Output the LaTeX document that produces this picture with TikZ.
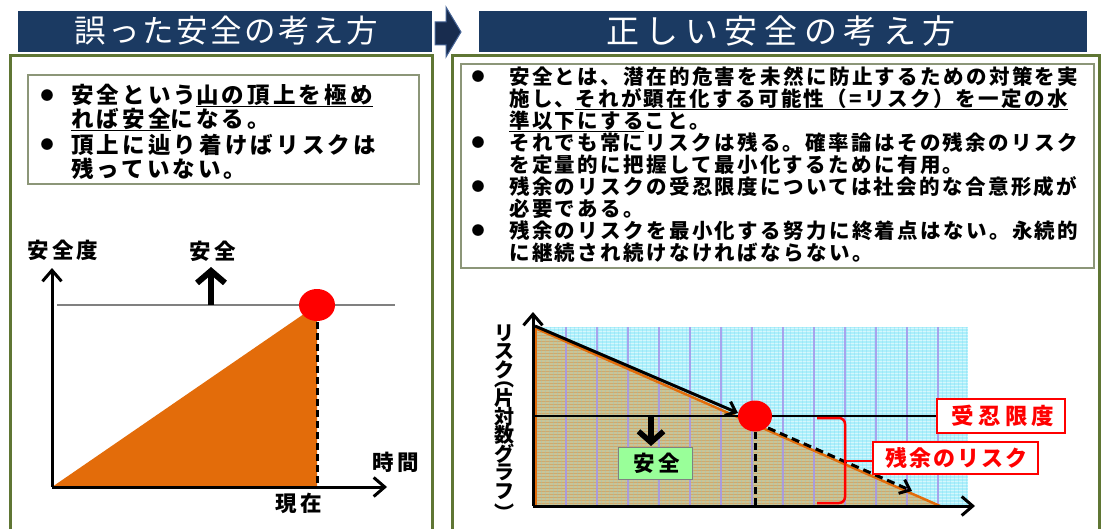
\documentclass[tikz,border=0pt]{standalone}
\usepackage{fontspec}
\usetikzlibrary{arrows.meta}
\newfontfamily\jp{Noto Sans CJK JP}
\definecolor{navy}{RGB}{27,58,98}
\definecolor{navyarrow}{RGB}{24,44,78}
\definecolor{navyedge}{RGB}{70,100,150}
\definecolor{olive}{RGB}{95,118,52}
\definecolor{boxline}{RGB}{140,150,120}
\definecolor{orng}{RGB}{227,108,10}
\definecolor{gridbg}{RGB}{172,240,250}
\definecolor{mytan}{RGB}{202,196,150}
\definecolor{gridv}{RGB}{165,150,235}
\definecolor{okgreen}{RGB}{153,255,153}
\newcommand{\jfont}[2]{\jp\fontsize{#1}{#1}\selectfont\addfontfeatures{LetterSpace=#2}}
\newcommand{\ulx}[1]{\setbox0=\hbox{#1}\rlap{\rule[-3.6pt]{\wd0}{1.1pt}}\box0}
\newcommand{\vc}[1]{\smash{#1}}
\newcommand{\vr}[2]{\smash{\raisebox{#1}{#2}}}
\begin{document}
\begin{tikzpicture}[x=1pt,y=-1pt,
  hdr/.style={fill=navy,draw=none},
  hdrtxt/.style={text=white,inner sep=0pt},
  panel/.style={draw=olive,line width=3pt},
  tbox/.style={draw=boxline,line width=1.2pt,fill=white},
  ltxt/.style={anchor=west,inner sep=0pt,font=\jfont{22.5}{14}\bfseries},
  rtxt/.style={anchor=west,inner sep=0pt,font=\jfont{20.5}{11.5}\bfseries},
  bul/.style={inner sep=0pt,font=\jp\fontsize{13}{13}\selectfont},
  glabel/.style={inner sep=0pt,font=\jfont{21.5}{15}\bfseries},
  axis/.style={line width=3pt,-{Straight Barb[length=11pt,width=19pt]}},
  thickarrow/.style={line width=6pt,-{Straight Barb[length=12pt,width=28pt]}},
  slopearrow/.style={line width=3pt,-{Straight Barb[length=9pt,width=15pt]}},
  dash2/.style={line width=3pt,dash pattern=on 7pt off 4pt},
  redbox/.style={draw=red,line width=1.5pt,fill=white,text=red,inner sep=0pt},
]
\useasboundingbox (0,0) rectangle (1102,529);
\clip (0,0) rectangle (1102,529);
\fill[white] (0,0) rectangle (1102,529);

% ---------- headers ----------
\node[hdr,minimum width=414pt,minimum height=41pt,inner sep=0pt] (h1) at (225,31.5) {};
\node[hdrtxt,font=\jfont{31.5}{8}] (h1t) at (226,31) {誤った安全の考え方};
\draw[fill=navyarrow,draw=navyedge,line width=1pt]
  (435,22) -- (446,22) -- (446,7) -- (461,32) -- (446,57) -- (446,45) -- (435,45) -- cycle;
\node[hdr,minimum width=608pt,minimum height=41pt,inner sep=0pt] (h2) at (783,31.5) {};
\node[hdrtxt,font=\jfont{33}{20}] (h2t) at (781,31) {正しい安全の考え方};

% ---------- panels ----------
\draw[panel] (10,560) -- (10,56) -- (432,56) -- (432,560);
\draw[panel] (452,560) -- (452,56) -- (1099,56) -- (1099,560);

% ---------- left text box ----------
\draw[tbox] (28,75) rectangle (419,184);
\node[bul] (lb1) at (47,96) {●};
\node[ltxt] (l1) at (71,96) {安全という\ulx{山の頂上を極め}};
\node[ltxt] (l2) at (71,120) {\ulx{れば安全}になる。};
\node[bul] (lb2) at (47,145) {●};
\node[ltxt] (l3) at (71,145) {頂上に辿り着けばリスクは};
\node[ltxt] (l4) at (71,169) {残っていない。};

% ---------- right text box ----------
\draw[tbox] (461,64) rectangle (1094,268);
\node[bul] (rb1) at (478,77) {●};
\node[rtxt] (r1) at (509,77) {安全とは、潜在的危害を未然に防止するための対策を実};
\node[rtxt] (r2) at (509,99) {施し、\ulx{それが顕在化する可能性（=リスク）を一定の水}};
\node[rtxt] (r3) at (509,121) {\ulx{準以下にする}こと。};
\node[bul] (rb2) at (478,143) {●};
\node[rtxt] (r4) at (509,143) {それでも常にリスクは残る。確率論はその残余のリスク};
\node[rtxt] (r5) at (509,165) {を定量的に把握して最小化するために有用。};
\node[bul] (rb3) at (478,187) {●};
\node[rtxt] (r6) at (509,187) {残余のリスクの受忍限度については社会的な合意形成が};
\node[rtxt] (r7) at (509,209) {必要である。};
\node[bul] (rb4) at (478,231) {●};
\node[rtxt] (r8) at (509,231) {残余のリスクを最小化する努力に終着点はない。永続的};
\node[rtxt] (r9) at (509,253) {に継続され続けなければならない。};

% ---------- left graph ----------
\coordinate (O1) at (52,487);
\coordinate (Y1) at (52,268);
\coordinate (X1) at (387,487);
\coordinate (P1) at (317,305);
\coordinate (P1b) at (317,487);
\fill[orng] (O1) -- (P1) -- (P1b) -- cycle;
\draw[gray,line width=1.3pt] (57,305) -- (395,305);
\draw[dash2] (317,322) -- (P1b);
\fill[red] (P1) ellipse [x radius=18, y radius=16];
\draw[axis] (O1) -- (Y1);
\draw[axis] (O1) -- (X1);
\coordinate (A1s) at (211,305);
\coordinate (A1e) at (211,267);
\draw[thickarrow] (A1s) -- (A1e);
\node[glabel] (lab1) at (63,250) {安全度};
\node[glabel] (lab2) at (213,251) {安全};
\node[glabel] (lab3) at (396,462) {時間};
\node[glabel] (lab4) at (299,503) {現在};

% ---------- right graph ----------
\fill[gridbg] (535,327) rectangle (968,506);
\foreach \yy in {328,331,...,505} \draw[white,opacity=0.5,line width=1pt] (535,\yy) -- (968,\yy);
\foreach \xx in {538,542,...,966} \draw[cyan!50,opacity=0.35,line width=0.8pt] (\xx,327) -- (\xx,506);
\fill[mytan] (535,328) -- (940,506) -- (535,506) -- cycle;
\begin{scope}
  \clip (535,328) -- (940,506) -- (535,506) -- cycle;
  \foreach \yy in {329,332,...,505} \draw[orng,opacity=0.3,line width=0.9pt] (535,\yy) -- (940,\yy);
  \foreach \xx in {537,541,...,940} \draw[teal!45,opacity=0.28,line width=0.8pt] (\xx,328) -- (\xx,506);
\end{scope}
\foreach \xx in {566,597,...,966} \draw[gridv,opacity=0.85,line width=1.3pt] (\xx,327) -- (\xx,506);
\draw[orng,line width=2.5pt] (535,328) -- (940,506);
\draw[orng,line width=2.5pt] (536,328) -- (536,506);
\coordinate (O2) at (533,506);
\coordinate (Y2) at (533,312);
\coordinate (X2) at (975,506);
\draw[axis] (O2) -- (Y2);
\draw[axis] (O2) -- (X2);
\draw[black,line width=1.2pt] (535,416) -- (937,416);
\coordinate (S0) at (535,326);
\coordinate (S1) at (738,413);
\coordinate (C2) at (755,416);
\draw[slopearrow] (S0) -- (S1);
\fill[red] (C2) ellipse [x radius=17, y radius=15.5];
\coordinate (D0) at (768,428);
\coordinate (D1) at (912,491);
\draw[slopearrow,dash pattern=on 8pt off 5pt] (D0) -- (D1);
\draw[dash2] (755,432) -- (755,505);
\coordinate (A2s) at (651,415);
\coordinate (A2e) at (651,446);
\draw[line width=5.5pt,-{Straight Barb[length=11pt,width=25pt]}] (A2s) -- (A2e);
\node[draw=gray,fill=okgreen,line width=1pt,minimum width=74pt,minimum height=32pt,inner sep=0pt,
      font=\jfont{21.5}{15}\bfseries] (safe2) at (655,463) {\hspace*{3pt}安全};
\node[redbox,minimum width=128pt,minimum height=34pt,font=\jfont{22.5}{18}\bfseries] (jn) at (1001,416) {\hspace*{4pt}受忍限度};
\node[redbox,minimum width=165pt,minimum height=32pt,font=\jfont{22}{10}\bfseries] (zan) at (955.5,458) {\hspace*{2pt}残余のリスク};
\draw[red,line width=2.5pt,rounded corners=6pt] (817,418) -- (845,418) -- (845,503) -- (817,503);
\coordinate (brk) at (845,461);
\draw[red,line width=2.5pt] (brk) -- (brk -| zan.west);
% vertical axis label
\node[inner sep=0pt,align=center,anchor=north,
      font=\jp\fontsize{20}{18.5}\selectfont\bfseries] (ylab) at (504,340)
  {\vc{リ}\\\vc{ス}\\\vc{ク}\\[-3pt]\vr{6.5pt}{︵}\\[-5.5pt]\vc{片}\\\vc{対}\\\vc{数}\\\vc{グ}\\\vc{ラ}\\\vc{フ}\\[-4.25pt]\vr{-8pt}{︶}};
\end{tikzpicture}
\end{document}
